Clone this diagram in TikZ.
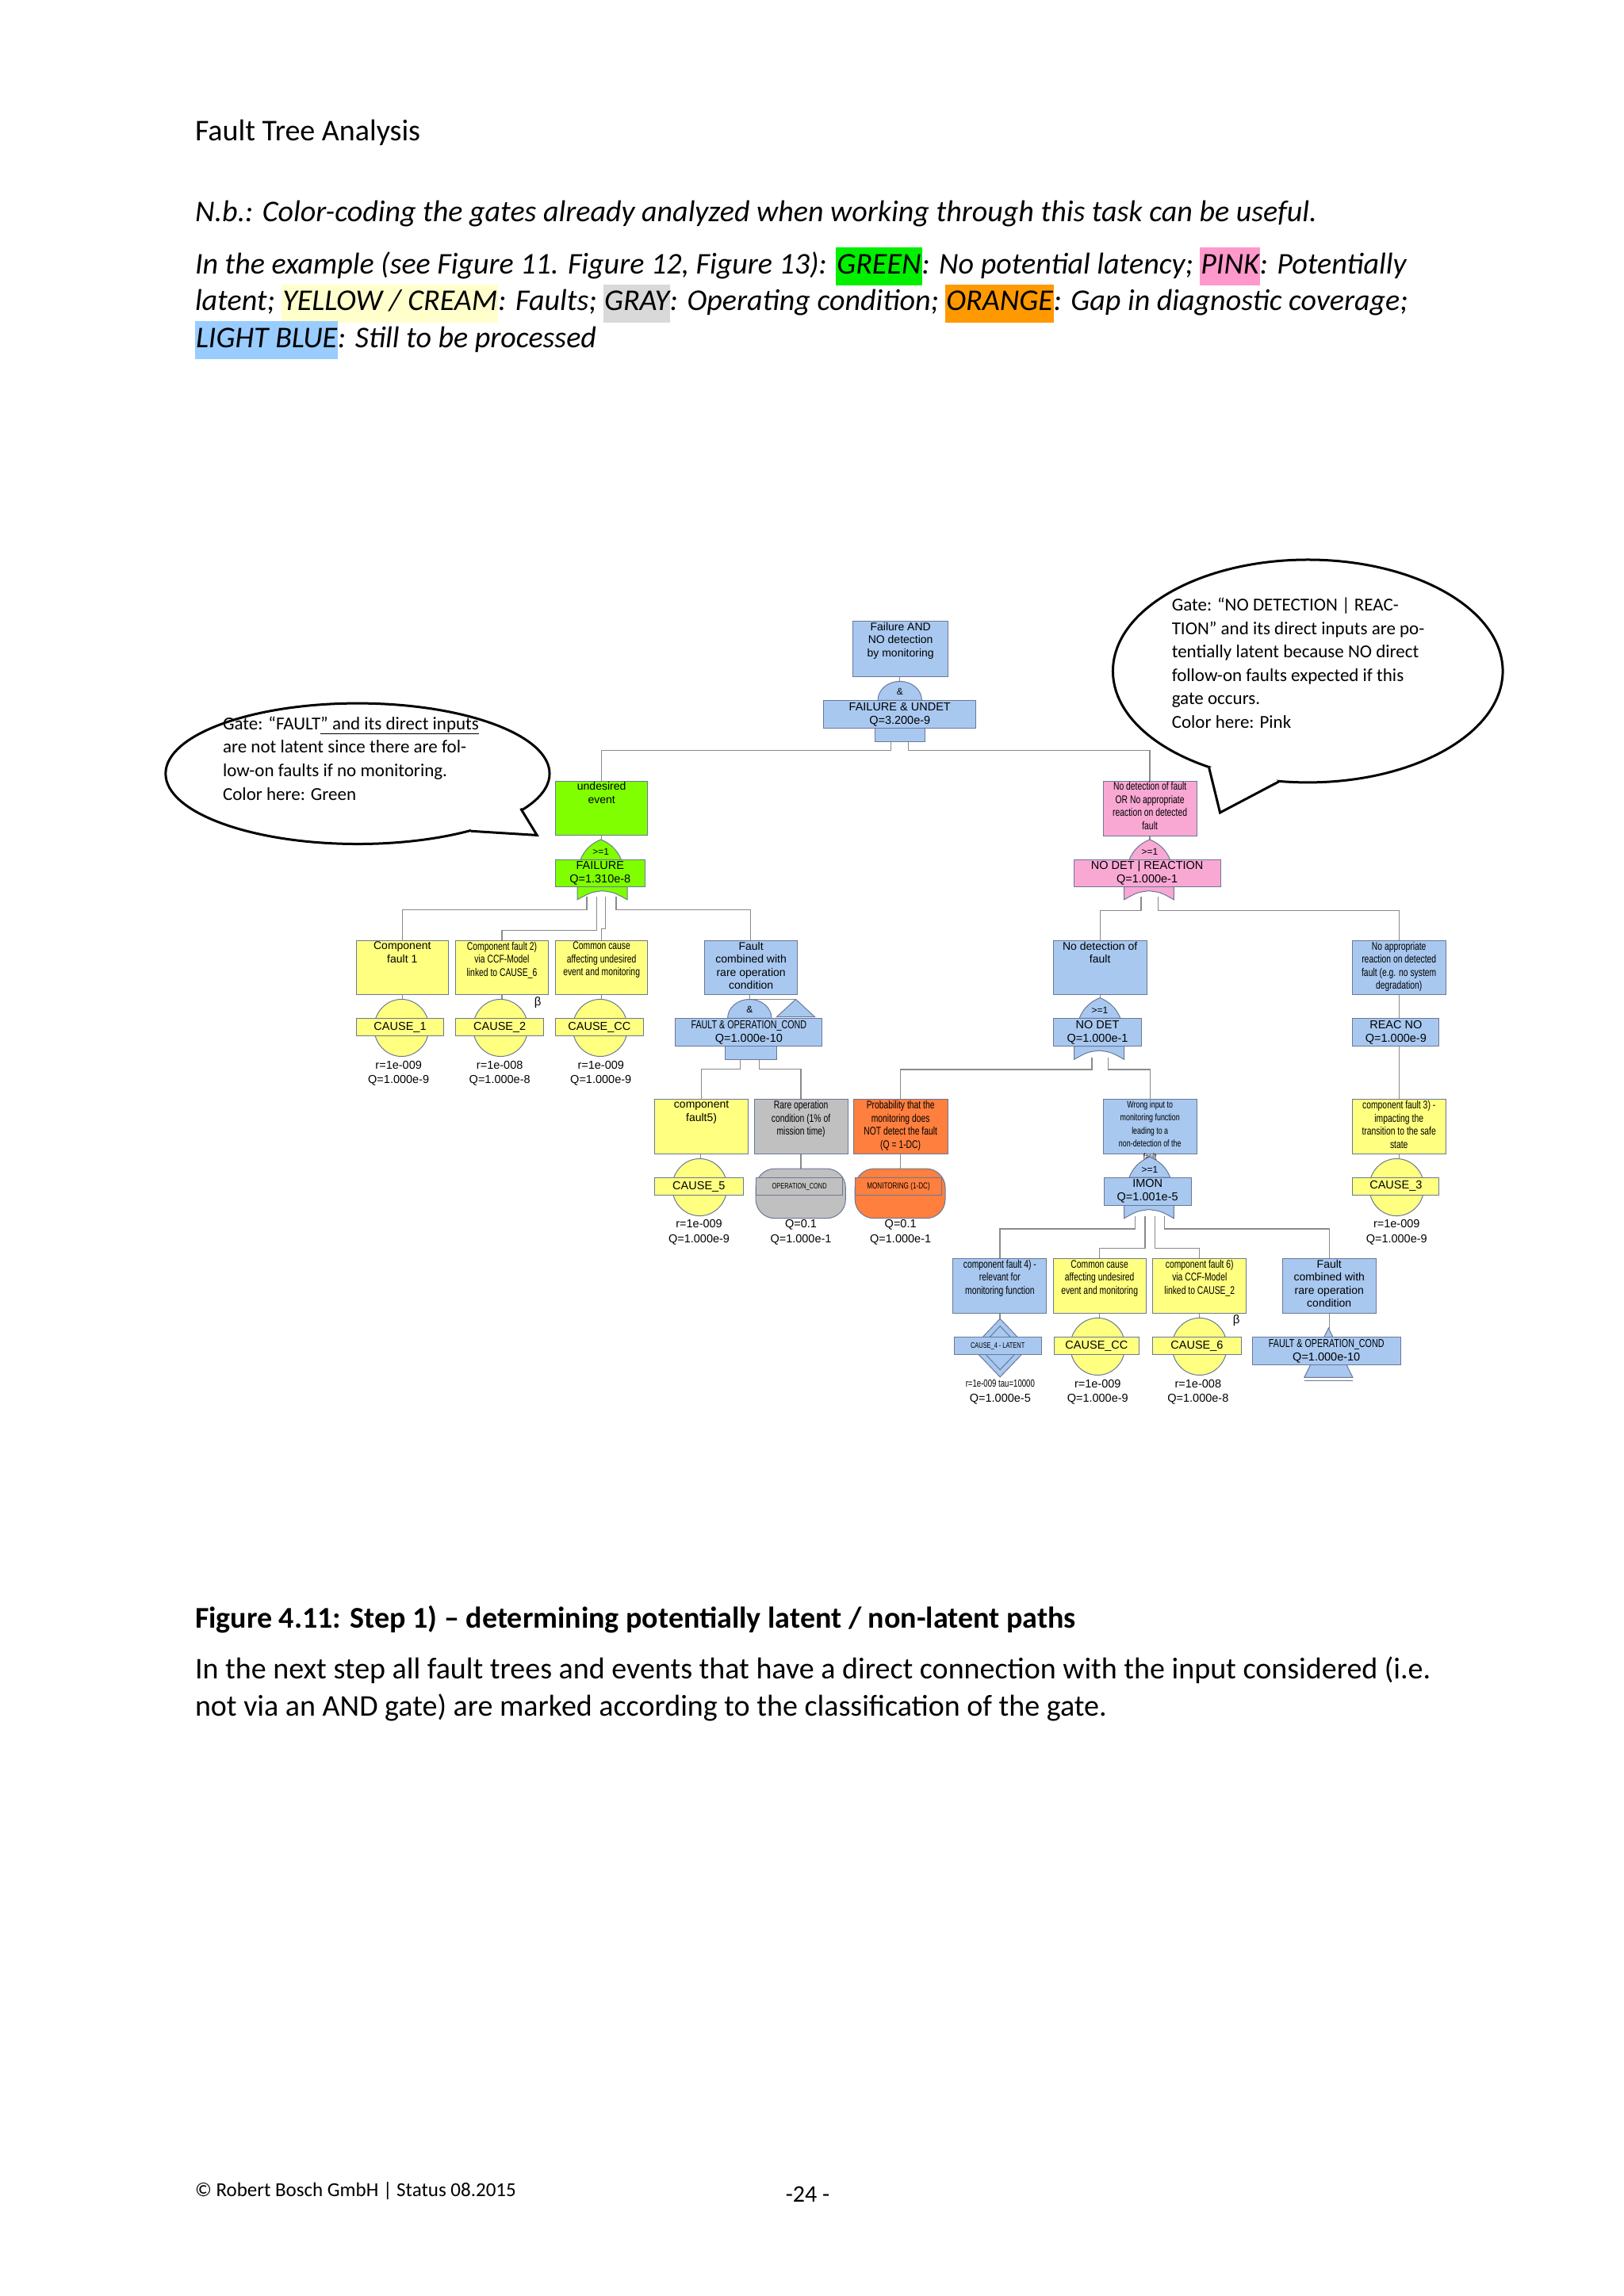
\documentclass[tikz,border=0pt]{standalone}
\usepackage{fontspec}
\usepackage{xcolor}
\usetikzlibrary{fit,calc}
\setmainfont{Carlito}
\newfontfamily\arialf{Liberation Sans}
\newfontfamily\narrowf[FakeStretch=0.74]{Liberation Sans}
\definecolor{ftblue}{HTML}{A8C8F0}
\definecolor{ftgreen}{HTML}{80FF00}
\definecolor{ftpink}{HTML}{F9A8D4}
\definecolor{ftyellow}{HTML}{FFFF80}
\definecolor{ftgray}{HTML}{C0C0C0}
\definecolor{ftorange}{HTML}{FF7F3F}
\definecolor{ftedge}{HTML}{6A7898}
\definecolor{ftconn}{HTML}{8A8A8A}
\definecolor{hlgreen}{HTML}{00F000}
\definecolor{hlpink}{HTML}{FF99CC}
\definecolor{hlyellow}{HTML}{FFFFCC}
\definecolor{hlgray}{HTML}{D9D9D9}
\definecolor{hlorange}{HTML}{FF9900}
\definecolor{hlblue}{HTML}{99CCFF}
\newcommand\hl[2]{{\setlength{\fboxsep}{1pt}\colorbox{#1}{\strut #2}}}
\tikzset{
 ftbox/.style={draw=ftedge, line width=1pt, inner sep=0pt},
 fttext/.style={align=center, inner sep=0pt, font=\arialf\fontsize{14}{16.5}\selectfont},
 ftlab/.style={align=center, inner sep=0pt, font=\arialf\fontsize{14.5}{17}\selectfont},
 ftsym/.style={inner sep=0pt, font=\arialf\fontsize{12}{12}\selectfont},
 ftval/.style={align=center, inner sep=0pt, font=\arialf\fontsize{14.5}{18.5}\selectfont},
 gateline/.style={draw=ftedge, line width=1pt},
 conn/.style={draw=ftconn, line width=1.3pt},
 bodytxt/.style={anchor=base west, inner sep=0pt, font=\fontsize{38}{46}\selectfont},
 calltxt/.style={anchor=base west, inner sep=0pt, font=\fontsize{23}{29}\selectfont},
 callout/.style={draw=black, line width=3pt, fill=white},
}
% box: name x1 y1 x2 y2 color text
\newcommand\FTbox[7]{%
 \node[ftbox, fill=#6, fit={(#2,#3)(#4,#5)}] (#1) {};
 \node[fttext, anchor=north] at ([yshift=-2pt]#1.north) {#7};}
% gate label box: name x1 y1 x2 y2 color text
\newcommand\FTgl[7]{%
 \node[ftbox, fill=#6, fit={(#2,#3)(#4,#5)}] (#1) {};
 \node[ftlab] at (#1.center) {#7};}
% and dome: cx ytop color
\newcommand\ANDdome[3]{%
 \filldraw[gateline, fill=#3] (#1-15,#2) arc[start angle=180,end angle=360,x radius=15,y radius=13] -- cycle;
 \node[ftsym] at (#1,#2-6) {\&};}
\newcommand\ORdome[3]{%
 \filldraw[gateline, fill=#3] (#1-14,#2) .. controls (#1-11,#2-8) and (#1-5,#2-12) .. (#1,#2-14) .. controls (#1+5,#2-12) and (#1+11,#2-8) .. (#1+14,#2) -- cycle;
 \node[ftsym] at (#1,#2-5.5) {>=1};}
\newcommand\ORbot[3]{%
 \filldraw[gateline, fill=#3] (#1-17,#2) -- (#1-17,#2+9) .. controls (#1-8,#2+4) .. (#1,#2+3) .. controls (#1+8,#2+4) .. (#1+17,#2+9) -- (#1+17,#2) -- cycle;}
\newcommand\ANDbot[4]{% x1 x2 ytop color
 \filldraw[gateline, fill=#4] (#1,#3) rectangle (#2,#3+9);}
% event circle: cx cy
\newcommand\FTcirc[2]{%
 \filldraw[gateline, fill=ftyellow] (#1,#2) ellipse[x radius=18.7, y radius=19.5];}
\begin{document}
\begin{tikzpicture}[x=1.848pt,y=-1.848pt]
\useasboundingbox (0,0) rectangle (1108,1567);
\fill[white] (0,0) rectangle (1108,1567);
% ---------- page text ----------
\node[bodytxt] (hdr) at (133,96) {Fault Tree Analysis};
\node[bodytxt] (nb) at (133,151) {\itshape N.b.: Color-coding the gates already analyzed when working through this task can be useful.};
\node[bodytxt] (l2) at (133,187) {\itshape In the example (see Figure 11. Figure 12, Figure 13): \hl{hlgreen}{GREEN}: No potential latency; \hl{hlpink}{PINK}: Potentially};
\node[bodytxt] (l3) at (133,212) {\itshape latent; \hl{hlyellow}{YELLOW / CREAM}: Faults; \hl{hlgray}{GRAY}: Operating condition; \hl{hlorange}{ORANGE}: Gap in diagnostic coverage;};
\node[bodytxt] (l4) at (133,237) {\itshape \hl{hlblue}{LIGHT BLUE}: Still to be processed};
\node[bodytxt] (cap) at (133,1111) {\bfseries Figure 4.11: Step 1) – determining potentially latent / non-latent paths};
\node[bodytxt] (b1) at (133,1146) {In the next step all fault trees and events that have a direct connection with the input considered (i.e.};
\node[bodytxt] (b2) at (133,1171) {not via an AND gate) are marked according to the classification of the gate.};
\node[bodytxt, font=\fontsize{25}{30}\selectfont] (foot) at (133,1499) {© Robert Bosch GmbH | Status 08.2015};
\node[bodytxt, font=\fontsize{30}{36}\selectfont] (pg) at (536,1503) {-24 -};
% ---------- callouts ----------
\draw[callout] (244,528) ellipse[x radius=131, y radius=48];
\fill[white] (355.3,551.8) -- (366.4,570) -- (321.4,567.2) -- (320,545) -- cycle;
\draw[black, line width=3pt, line join=miter] (355.3,551.8) -- (366.4,570) -- (321.4,567.2);
\node[calltxt] (c1a) at (152,498) {Gate: “FAULT\underline{” and its direct inputs}};
\node[calltxt] (c1b) at (152,514) {are not latent since there are fol-};
\node[calltxt] (c1c) at (152,530) {low-on faults if no monitoring.};
\node[calltxt] (c1d) at (152,546) {Color here: Green};
\draw[callout] (892.4,458) ellipse[x radius=133, y radius=76];
\fill[white] (825,524) -- (832.5,554.6) -- (872.5,533.5) -- (850,515) -- cycle;
\draw[black, line width=3pt, line join=miter] (825,524) -- (832.5,554.6) -- (872.5,533.5);
\node[calltxt] (c2a) at (799.5,417) {Gate: “NO DETECTION | REAC-};
\node[calltxt] (c2b) at (799.5,433) {TION” and its direct inputs are po-};
\node[calltxt] (c2c) at (799.5,449) {tentially latent because NO direct};
\node[calltxt] (c2d) at (799.5,465) {follow-on faults expected if this};
\node[calltxt] (c2e) at (799.5,481) {gate occurs.};
\node[calltxt] (c2f) at (799.5,497) {Color here: Pink};
% ---------- connectors ----------
\draw[conn] (614,462) -- (614,466);
\draw[conn] (608,506) -- (608,512) -| (410.5,533);
\draw[conn] (620,506) -- (620,512) -| (784.5,533);
\draw[conn] (410.5,570) -- (410.5,575);
\draw[conn] (784.5,570) -- (784.5,575);
\draw[conn] (400.4,612) -- (400.4,621) -| (274.5,642);
\draw[conn] (407,612) -- (407,635) -| (342.5,642);
\draw[conn] (413,612) -- (413,634) -| (410.5,642);
\draw[conn] (420.4,612) -- (420.4,621) -| (512,642);
\draw[conn] (274.5,679) -- (274.5,683);
\draw[conn] (342.5,679) -- (342.5,683);
\draw[conn] (410.5,679) -- (410.5,683);
\draw[conn] (511.5,679) -- (511.5,683);
\draw[conn] (505,723) -- (505,729.5) -| (478.6,750.4);
\draw[conn] (518,723) -- (518,729.5) -| (546.5,750.4);
\draw[conn] (478,787.7) -- (478,792);
\draw[conn] (546.5,787.7) -- (546.5,798);
\draw[conn] (614.5,787.7) -- (614.5,798);
\draw[conn] (778.7,612) -- (778.7,621.5) -| (750.6,642);
\draw[conn] (790.4,612) -- (790.4,621.5) -| (954.6,642);
\draw[conn] (750.6,679) -- (750.6,684);
\draw[conn] (954.6,679) -- (954.6,750.4);
\draw[conn] (745,722) -- (745,730) -| (614.5,750.4);
\draw[conn] (756,722) -- (756,730) -| (784.8,750.4);
\draw[conn] (784.8,787.7) -- (784.8,792);
\draw[conn] (954.6,787.7) -- (954.6,792);
\draw[conn] (774.4,830) -- (774.4,838.7) -| (682.3,859);
\draw[conn] (781.4,830) -- (781.4,852) -| (750.4,859);
\draw[conn] (788.2,830) -- (788.2,852) -| (818.5,859);
\draw[conn] (794.4,830) -- (794.4,838.7) -| (907,859);
\draw[conn] (682.3,896.5) -- (682.3,901);
\draw[conn] (750.4,896.5) -- (750.4,900);
\draw[conn] (818.5,896.5) -- (818.5,900);
\draw[conn] (907,896.5) -- (907,907);
% ---------- top gate ----------
\FTbox{top}{582}{424}{647}{462}{ftblue}{Failure AND\\NO detection\\by monitoring}
\ANDdome{614}{478}{ftblue}
\ANDbot{597}{631}{497}{ftblue}
\FTgl{gtop}{562}{478}{666}{497}{ftblue}{FAILURE \& UNDET\\Q=3.200e-9}
% ---------- left branch ----------
\FTbox{ue}{379}{533}{442}{570}{ftgreen}{undesired\\event}
\ORdome{410}{587}{ftgreen}
\ORbot{411}{605}{ftgreen}
\FTgl{gfail}{379}{587}{440}{605}{ftgreen}{FAILURE\\Q=1.310e-8}
\FTbox{cf1}{243}{642}{306}{679}{ftyellow}{Component\\fault 1}
\FTbox{cf2}{311}{642}{374}{679}{ftyellow}{\narrowf Component fault 2)\\\narrowf via CCF-Model\\\narrowf linked to CAUSE\_6}
\FTbox{ccA}{379}{642}{442}{679}{ftyellow}{\narrowf Common cause\\\narrowf affecting undesired\\\narrowf event and monitoring}
\FTbox{fcA}{481}{642}{544}{679}{ftblue}{Fault\\combined with\\rare operation\\condition}
\FTcirc{274}{701.5}
\FTcirc{341.5}{701.5}
\FTcirc{409.5}{701.5}
\FTgl{c1}{243}{695}{303}{707}{ftyellow}{CAUSE\_1}
\FTgl{c2}{311}{695}{371}{707}{ftyellow}{CAUSE\_2}
\FTgl{ccAl}{379}{695}{439}{707}{ftyellow}{CAUSE\_CC}
\node[ftval, font=\arialf\fontsize{15}{15}\selectfont] (betaA) at (367,684.5) {β};
\node[ftval] (v1) at (272,732.5) {r=1e-009\\Q=1.000e-9};
\node[ftval] (v2) at (341,732.5) {r=1e-008\\Q=1.000e-8};
\node[ftval] (v3) at (410,732.5) {r=1e-009\\Q=1.000e-9};
% AND gate fault & op
\draw[conn] (511.5,682) -- (543,682);
\filldraw[gateline, fill=ftblue] (543,682) -- (556,694) -- (530,694) -- cycle;
\ANDdome{511.5}{695}{ftblue}
\ANDbot{495}{530}{714}{ftblue}
\FTgl{gfoA}{461}{695}{561}{714}{ftblue}{\narrowf FAULT \& OPERATION\_COND\\Q=1.000e-10}
\FTbox{cf5}{446.7}{750.4}{510.6}{787.7}{ftyellow}{component\\fault5)}
\FTbox{rare}{514.6}{750.4}{578.5}{787.7}{ftgray}{\narrowf Rare operation\\\narrowf condition (1\% of\\\narrowf mission time)}
\FTbox{prob}{582.4}{750.4}{646.6}{787.7}{ftorange}{\narrowf Probability that the\\\narrowf monitoring does\\\narrowf NOT detect the fault\\\narrowf (Q = 1-DC)}
\FTcirc{477.4}{810.3}
\FTgl{c5}{446.7}{804}{507}{815.5}{ftyellow}{CAUSE\_5}
\filldraw[gateline, fill=ftgray, rounded corners=13pt*1.848] (515.7,797.6) rectangle (577,831.5);
\node[ftbox, fill=ftgray, fit={(516,804)(575,815.5)}] (opc) {};
\node[ftsym, font=\narrowf\fontsize{10}{10}\selectfont] at (opc.center) {OPERATION\_COND};
\filldraw[gateline, fill=ftorange, rounded corners=13pt*1.848] (583.4,797.6) rectangle (645,831.5);
\node[ftbox, fill=ftorange, fit={(583.4,803.6)(642.7,815.7)}] (mon) {};
\node[ftsym, font=\narrowf\fontsize{11}{11}\selectfont] at (mon.center) {MONITORING (1-DC)};
\node[ftval] (v5) at (477,841) {r=1e-009\\Q=1.000e-9};
\node[ftval] (v6) at (546.5,841) {Q=0.1\\Q=1.000e-1};
\node[ftval] (v7) at (614.5,841) {Q=0.1\\Q=1.000e-1};
% ---------- right branch ----------
\FTbox{pk}{752.7}{533}{816.6}{570.5}{ftpink}{\narrowf No detection of fault\\\narrowf OR No appropriate\\\narrowf reaction on detected\\\narrowf fault}
\ORdome{784.5}{587}{ftpink}
\ORbot{784}{605}{ftpink}
\FTgl{gpk}{732.7}{587}{832.8}{605}{ftpink}{NO DET | REACTION\\Q=1.000e-1}
\FTbox{nd}{718.6}{642}{782.6}{679}{ftblue}{No detection of\\fault}
\FTbox{nr}{922.6}{642}{986.6}{679}{ftblue}{\narrowf No appropriate\\\narrowf reaction on detected\\\narrowf fault (e.g. no system\\\narrowf degradation)}
\ORdome{750.5}{695}{ftblue}
\ORbot{750}{714}{ftblue}
\FTgl{gnd}{719}{695}{778.8}{714}{ftblue}{NO DET\\Q=1.000e-1}
\FTgl{grn}{923}{695}{982}{714}{ftblue}{REAC NO\\Q=1.000e-9}
\FTbox{wi}{752.8}{750.4}{816.6}{787.7}{ftblue}{\narrowf\fontsize{12}{13.6}\selectfont Wrong input to\\\narrowf\fontsize{12}{13.6}\selectfont monitoring function\\\narrowf\fontsize{12}{13.6}\selectfont leading to a\\\narrowf\fontsize{12}{13.6}\selectfont non-detection of the\\\narrowf\fontsize{12}{13.6}\selectfont fault}
\FTbox{cf3}{922.6}{750.4}{986.6}{787.7}{ftyellow}{\narrowf component fault 3) -\\\narrowf impacting the\\\narrowf transition to the safe\\\narrowf state}
\FTcirc{953}{810.3}
\FTgl{c3}{923}{803.6}{982}{815.6}{ftyellow}{CAUSE\_3}
\node[ftval] (v8) at (953,841) {r=1e-009\\Q=1.000e-9};
\ORdome{784.5}{803.6}{ftblue}
\ORbot{784}{822.5}{ftblue}
\FTgl{gim}{753.3}{803.6}{812.8}{822.5}{ftblue}{IMON\\Q=1.001e-5}
\FTbox{cf4}{650.3}{859}{714.2}{896.5}{ftblue}{\narrowf component fault 4) -\\\narrowf relevant for\\\narrowf monitoring function}
\FTbox{ccB}{718.6}{859}{782}{896.5}{ftyellow}{\narrowf Common cause\\\narrowf affecting undesired\\\narrowf event and monitoring}
\FTbox{cf6}{786.6}{859}{850.5}{896.5}{ftyellow}{\narrowf component fault 6)\\\narrowf via CCF-Model\\\narrowf linked to CAUSE\_2}
\FTbox{fcB}{875}{859}{939}{896.5}{ftblue}{Fault\\combined with\\rare operation\\condition}
\filldraw[gateline, fill=ftblue] (682.4,900) -- (701.4,920) -- (682.4,939.8) -- (663.5,920) -- cycle;
\draw[gateline] (682.4,905) -- (696.5,920) -- (682.4,934.8) -- (668.4,920) -- cycle;
\FTgl{c4}{651}{912.7}{710.6}{924.4}{ftblue}{\narrowf\fontsize{10}{10}\selectfont CAUSE\_4 - LATENT}
\FTcirc{749}{919}
\FTcirc{818.5}{919}
\FTgl{ccBl}{719.6}{912.7}{777}{924.4}{ftyellow}{CAUSE\_CC}
\FTgl{c6}{786.6}{912.7}{846.9}{924.4}{ftyellow}{CAUSE\_6}
\node[ftval, font=\arialf\fontsize{15}{15}\selectfont] (betaB) at (843.6,901.5) {β};
\filldraw[gateline, fill=ftblue] (906.5,906.4) -- (923,940) -- (890,940) -- cycle;
\draw[gateline] (890,942.5) -- (923,942.5);
\FTgl{gfoB}{854.5}{912.3}{955.7}{931.6}{ftblue}{\narrowf FAULT \& OPERATION\_COND\\Q=1.000e-10}
\node[ftval] (v9) at (682.5,950) {\narrowf\fontsize{13}{18.5}\selectfont r=1e-009 tau=10000\\Q=1.000e-5};
\node[ftval] (v10) at (749,950) {r=1e-009\\Q=1.000e-9};
\node[ftval] (v11) at (817.5,950) {r=1e-008\\Q=1.000e-8};
\end{tikzpicture}
\end{document}
